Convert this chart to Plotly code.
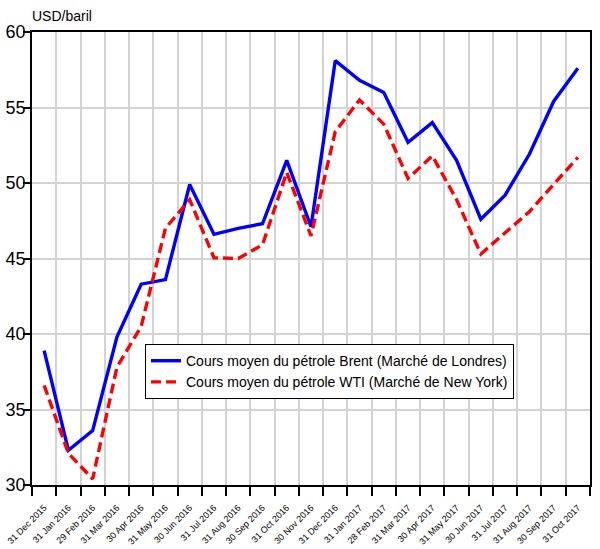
import plotly.graph_objects as go

dates = ["31 Dec 2015", "31 Jan 2016", "29 Feb 2016", "31 Mar 2016", "30 Apr 2016",
         "31 May 2016", "30 Jun 2016", "31 Jul 2016", "31 Aug 2016", "30 Sep 2016",
         "31 Oct 2016", "30 Nov 2016", "31 Dec 2016", "31 Jan 2017", "28 Feb 2017",
         "31 Mar 2017", "30 Apr 2017", "31 May 2017", "30 Jun 2017", "31 Jul 2017",
         "31 Aug 2017", "30 Sep 2017", "31 Oct 2017"]

brent = [38.9, 32.3, 33.6, 39.8, 43.3, 43.6, 49.9, 46.6, 47.0, 47.3, 51.5, 47.1,
         58.1, 56.8, 56.0, 52.7, 54.0, 51.5, 47.6, 49.2, 51.9, 55.4, 57.6]

wti = [36.6, 32.1, 30.4, 37.8, 40.5, 47.0, 48.9, 45.05, 45.0, 45.9, 50.7, 46.5,
       53.4, 55.5, 53.9, 50.3, 51.8, 48.9, 45.3, 46.7, 48.1, 49.9, 51.7]

y_ticks = [30, 35, 40, 45, 50, 55, 60]

fig = go.Figure()
fig.add_trace(go.Scatter(
    x=dates, y=brent, mode="lines",
    name="Cours moyen du pétrole Brent (Marché de Londres)",
    line=dict(color="#0000FF", width=3.4)))
fig.add_trace(go.Scatter(
    x=dates, y=wti, mode="lines",
    name="Cours moyen du pétrole WTI (Marché de New York)",
    line=dict(color="#FF0000", width=3.4, dash="10px,5px")))

fig.update_layout(
    width=600, height=549,
    margin=dict(l=32, r=10, t=32, b=64, autoexpand=False),
    paper_bgcolor="white", plot_bgcolor="white",
    font=dict(family="Liberation Sans, Arial, sans-serif", color="black"),
    showlegend=True,
    legend=dict(x=0.2025, y=0.311, xanchor="left", yanchor="top",
                bordercolor="black", borderwidth=1, bgcolor="white",
                font=dict(size=14), tracegroupgap=0, itemwidth=30),
)
fig.add_annotation(text="USD/baril", xref="paper", yref="paper",
                   x=-0.003, y=1.0, yshift=6, xanchor="left", yanchor="bottom",
                   showarrow=False, font=dict(size=14))

fig.update_xaxes(
    type="category", range=[-0.5, 22.5], tickson="boundaries", automargin=False,
    tickangle=-45, tickfont=dict(size=9), ticklabelstandoff=12,
    ticks="outside", ticklen=9, tickwidth=1.5, tickcolor="black",
    showgrid=True, gridcolor="#d3d3d3", gridwidth=1.5,
    showline=True, linecolor="black", linewidth=2, mirror=True)
fig.update_yaxes(
    range=[30, 60], tickvals=y_ticks, tickfont=dict(size=18), automargin=False,
    ticks="outside", ticklen=7, tickwidth=1.5, tickcolor="black",
    ticklabelstandoff=-6,
    showgrid=True, gridcolor="#d3d3d3", gridwidth=1.5,
    showline=True, linecolor="black", linewidth=2, mirror=True,
    zeroline=False)

# remove the browser's default 8px body margin so the figure sits at the page corner
fig.write_html("out.html",
               config={"displayModeBar": False},
               post_script="document.body.style.margin='0';document.body.style.padding='0';")
